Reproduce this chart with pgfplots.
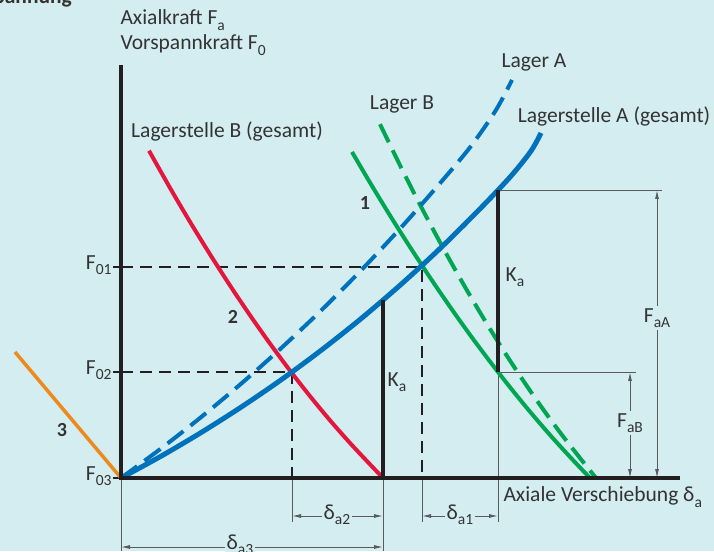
\documentclass[border=0pt]{standalone}
\usepackage{pgfplots}
\pgfplotsset{compat=1.18}
\usepackage{fontspec}
\setmainfont{Carlito}
\usetikzlibrary{arrows.meta}
\definecolor{bg}{HTML}{D4EDF1}
\definecolor{cblue}{HTML}{0072BC}
\definecolor{cgreen}{HTML}{00A651}
\definecolor{cred}{HTML}{E3173E}
\definecolor{corange}{HTML}{EC8A1E}
\definecolor{cblack}{HTML}{231F20}
\definecolor{cgray}{HTML}{5A5A5A}
\definecolor{ctext}{HTML}{333333}
\newcommand{\sub}[1]{\raisebox{-0.25em}{\fontsize{15.5}{15.5}\selectfont #1}}
\begin{document}
\begin{tikzpicture}[font=\fontsize{21.5}{24}\selectfont, text=ctext]
\begin{axis}[
  scale only axis, width=714pt, height=551pt,
  xmin=-121, xmax=593, ymin=-73, ymax=478,
  axis line style={draw=none}, xtick=\empty, ytick=\empty,
  axis background/.style={fill=bg},
  clip=false,
  dimln/.style={cgray, line width=0.9pt},
  dimarr/.style={cgray, line width=0.9pt, {Latex[length=9pt,width=4pt]}-{Latex[length=9pt,width=4pt]}},
  blkdash/.style={cblack, line width=1.6pt, dash pattern=on 12pt off 7pt},
]
% thin extension lines
\addplot[dimln] coordinates {(0,0) (0,-73)};
\addplot[dimln] coordinates {(262,0) (262,-73)};
\addplot[dimln] coordinates {(171,0) (171,-44)};
\addplot[dimln] coordinates {(301,0) (301,-44)};
\addplot[dimln] coordinates {(377,106) (377,-44)};
\addplot[dimln] coordinates {(377,288) (541,288)};
\addplot[dimln] coordinates {(377,106) (515,106)};
% dimension arrows
\addplot[dimarr] coordinates {(171,-38) (262,-38)};
\addplot[dimarr] coordinates {(301,-38) (377,-38)};
\addplot[dimarr] coordinates {(0,-69) (262,-69)};
\addplot[dimarr] coordinates {(536,288) (536,0)};
\addplot[dimarr] coordinates {(509,106) (509,0)};
% dashed guide lines
\addplot[blkdash] coordinates {(0,211) (301,211) (301,0)};
\addplot[blkdash] coordinates {(0,106) (171,106) (171,0)};
% ticks
\addplot[cblack, line width=1.6pt] coordinates {(-8,211) (0,211)};
\addplot[cblack, line width=1.6pt] coordinates {(-8,106) (0,106)};
\addplot[cblack, line width=1.6pt] coordinates {(-8,0) (0,0)};
% orange (3)
\addplot[corange, line width=3.5pt] coordinates {(-106,126) (-53,63) (0,0)};
% red Lagerstelle B (gesamt), case 2
\addplot[cred, line width=4pt, smooth] coordinates {
(28,327.3) (50,288.4) (70,254.5) (90,222.1) (110,191) (130,161.3) (150,133) (170,106.1) (190,80.6) (210,56.5) (230,33.9) (250,12.6) (262,0)};
% green dashed Lager B
\addplot[cgreen, line width=4pt, dash pattern=on 20pt off 9pt, smooth] coordinates {
(259,353.8) (280,310.7) (300,271.4) (320,233.9) (340,198) (360,163.9) (380,131.4) (400,100.7) (420,71.6) (440,44.3) (460,18.7) (475,0)};
% green solid, case 1
\addplot[cgreen, line width=4pt, smooth] coordinates {
(231,326) (250,293.7) (270,260.9) (290,229.4) (310,199) (330,169.8) (350,141.8) (370,115.1) (390,89.5) (410,65.1) (430,41.9) (450,20) (469,0)};
% blue dashed Lager A
\addplot[cblue, line width=4pt, dash pattern=on 20pt off 9pt, smooth] coordinates {
(0,0) (40,29.5) (80,60.8) (120,94.2) (160,129.7) (200,167.4) (240,207.6) (280,250.4) (320,295.9) (350,331.9) (375,368) (391,398)};
% blue solid Lagerstelle A (gesamt)
\addplot[cblue, line width=5pt, smooth] coordinates {
(0,0) (40,21.8) (80,45.4) (120,70.8) (160,98.1) (200,127.6) (240,159.3) (280,193.6) (320,230.4) (360,270.2) (390,302) (410,327) (420,345)};
% K_a lines
\addplot[cblack, line width=3.5pt] coordinates {(262,0) (262,178)};
\addplot[cblack, line width=3.5pt] coordinates {(377,106) (377,288)};
% axes
\addplot[cblack, line width=3.5pt] coordinates {(0,413) (0,0) (559,0)};
% labels
\node[anchor=base east, inner sep=0pt, font=\fontsize{21.5}{24}\selectfont\bfseries] at (-49,474) {Vorspannung};
\node[anchor=west] at (-4,458) {Axialkraft F\sub{a}};
\node[anchor=west] at (-4,433) {Vorspannkraft F\sub{0}};
\node at (413,416) {Lager A};
\node at (281,374) {Lager B};
\node at (493,362) {Lagerstelle A (gesamt)};
\node at (106,347) {Lagerstelle B (gesamt)};
\node[font=\fontsize{20}{24}\selectfont\bfseries] at (244,275) {1};
\node[font=\fontsize{20}{24}\selectfont\bfseries] at (112,161) {2};
\node[font=\fontsize{20}{24}\selectfont\bfseries] at (-59,48) {3};
\node at (276,96) {K\sub{a}};
\node at (394,201) {K\sub{a}};
\node[anchor=east] at (-6,213) {F\sub{01}};
\node[anchor=east] at (-6,108) {F\sub{02}};
\node[anchor=east] at (-6,2) {F\sub{03}};
\node[anchor=west] at (379,-19) {Axiale Verschiebung δ\sub{a}};
\node[fill=bg, inner sep=2pt] at (216,-37) {δ\sub{a2}};
\node[fill=bg, inner sep=2pt] at (339,-37) {δ\sub{a1}};
\node[fill=bg, inner sep=2pt] at (119,-67) {δ\sub{a3}};
\node[fill=bg, inner sep=2pt] at (536,160) {F\sub{aA}};
\node[fill=bg, inner sep=2pt] at (509,55) {F\sub{aB}};
\coordinate (SW) at (rel axis cs:0,0);
\coordinate (NE) at (rel axis cs:1,1);
\end{axis}
\pgfresetboundingbox
\useasboundingbox (SW) rectangle (NE);
\end{tikzpicture}
\end{document}
